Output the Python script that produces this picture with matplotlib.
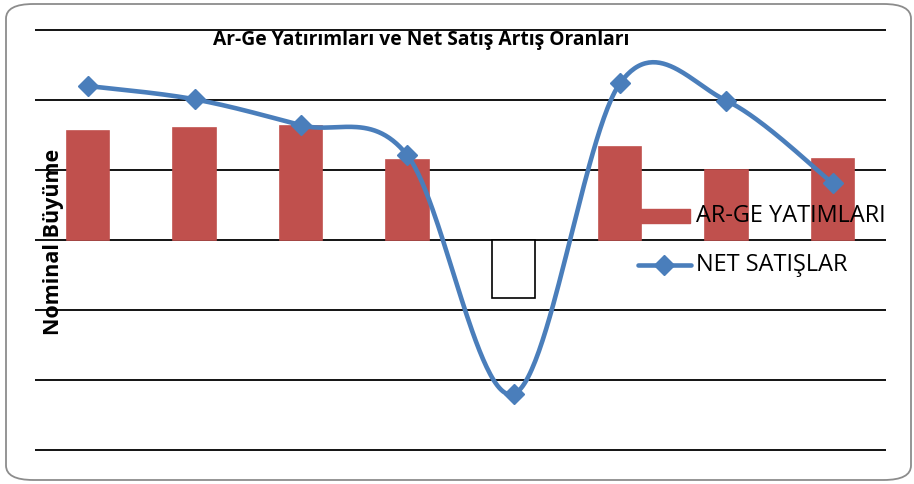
import numpy as np
import matplotlib
matplotlib.use("Agg")
import matplotlib.pyplot as plt
from matplotlib.patches import Rectangle, FancyBboxPatch
from matplotlib.lines import Line2D

plt.rcParams['font.family'] = ['Open Sans', 'DejaVu Sans']

title = "Ar-Ge Yatırımları ve Net Satış Artış Oranları"
ylabel = "Nominal Büyüme"
series_bar = "AR-GE YATIMLARI"
series_line = "NET SATIŞLAR"
categories = list(range(1, 9))
arge = [15.6, 16.0, 16.3, 11.4, -8.3, 13.3, 10.0, 11.6]
net = [22.0, 20.1, 16.4, 12.1, -22.0, 22.4, 19.9, 8.1]
yticks = [-30, -20, -10, 0, 10, 20, 30]

W, H = 914, 484
fig = plt.figure(figsize=(W / 100, H / 100), dpi=100)

def fx(px):
    return px / W

def fy(py):
    return 1 - py / H

# rounded outer border
fig.patches.append(FancyBboxPatch((fx(6), fy(480)), fx(905), 476 / H,
                                  boxstyle="round,pad=0,rounding_size=0.03",
                                  transform=fig.transFigure, fill=False,
                                  edgecolor="#8c8c8c", linewidth=1.3, zorder=0))

top_px, bot_px = 28, 452
ax = fig.add_axes([fx(35), fy(bot_px), fx(886 - 35), (bot_px - top_px) / H])
u = 60 / 420 * 2
ax.set_ylim(-30 - u, 30 + u)
ax.set_xlim(-0.5, len(categories) - 0.5)
ax.set_facecolor("none")

for v in yticks:
    ax.axhline(v, color="black", linewidth=1.3, zorder=1)

x = np.arange(len(categories))
bar_colors = ["#C0504D" if v >= 0 else "white" for v in arge]
edge_colors = ["#C0504D" if v >= 0 else "black" for v in arge]
ax.bar(x, arge, width=0.4, color=bar_colors, edgecolor=edge_colors,
       linewidth=1.2, zorder=2)

# Excel-style smoothed line (Catmull-Rom / Bezier)
y = np.array(net, dtype=float)
xs, ys = [], []
n = len(y)
for i in range(n - 1):
    p0 = y[i - 1] if i > 0 else y[i]
    p1, p2 = y[i], y[i + 1]
    p3 = y[i + 2] if i + 2 < n else y[i + 1]
    x0 = x[i - 1] if i > 0 else x[i]
    x3 = x[i + 2] if i + 2 < n else x[i + 1]
    c1y = p1 + (p2 - p0) / 6
    c2y = p2 - (p3 - p1) / 6
    c1x = x[i] + (x[i + 1] - x0) / 6
    c2x = x[i + 1] - (x3 - x[i]) / 6
    t = np.linspace(0, 1, 60)
    bx = (1 - t) ** 3 * x[i] + 3 * (1 - t) ** 2 * t * c1x + 3 * (1 - t) * t ** 2 * c2x + t ** 3 * x[i + 1]
    by = (1 - t) ** 3 * p1 + 3 * (1 - t) ** 2 * t * c1y + 3 * (1 - t) * t ** 2 * c2y + t ** 3 * p2
    xs.extend(bx)
    ys.extend(by)
blue = "#4A7EBB"
ax.plot(xs, ys, color=blue, linewidth=3.3, solid_capstyle="round", zorder=3)
ax.plot(x, y, linestyle="none", marker="D", markersize=10.5, color=blue, zorder=4)

ax.set_xticks([])
ax.set_yticks([])
for s in ax.spines.values():
    s.set_visible(False)

fig.text(fx(421), fy(40), title, ha="center", va="center",
         fontsize=13.9, fontweight="bold")
fig.text(fx(54), fy(242), ylabel, ha="center", va="center", rotation=90,
         fontsize=15.5, fontweight="bold")

# legend
fig.patches.append(Rectangle((fx(640), fy(223)), fx(50), 14 / H,
                             transform=fig.transFigure, color="#C0504D", zorder=5))
fig.text(fx(696), fy(216), series_bar, ha="left", va="center", fontsize=16.9, zorder=6)
fig.lines.append(Line2D([fx(638), fx(691)], [fy(265), fy(265)], transform=fig.transFigure,
                        color=blue, linewidth=3.3, solid_capstyle="round", zorder=5))
fig.lines.append(Line2D([fx(664)], [fy(265)], transform=fig.transFigure, marker="D",
                        markersize=10.5, color=blue, zorder=6))
fig.text(fx(696), fy(265), series_line, ha="left", va="center", fontsize=16.9, zorder=6)

fig.savefig("out.png", dpi=100)
